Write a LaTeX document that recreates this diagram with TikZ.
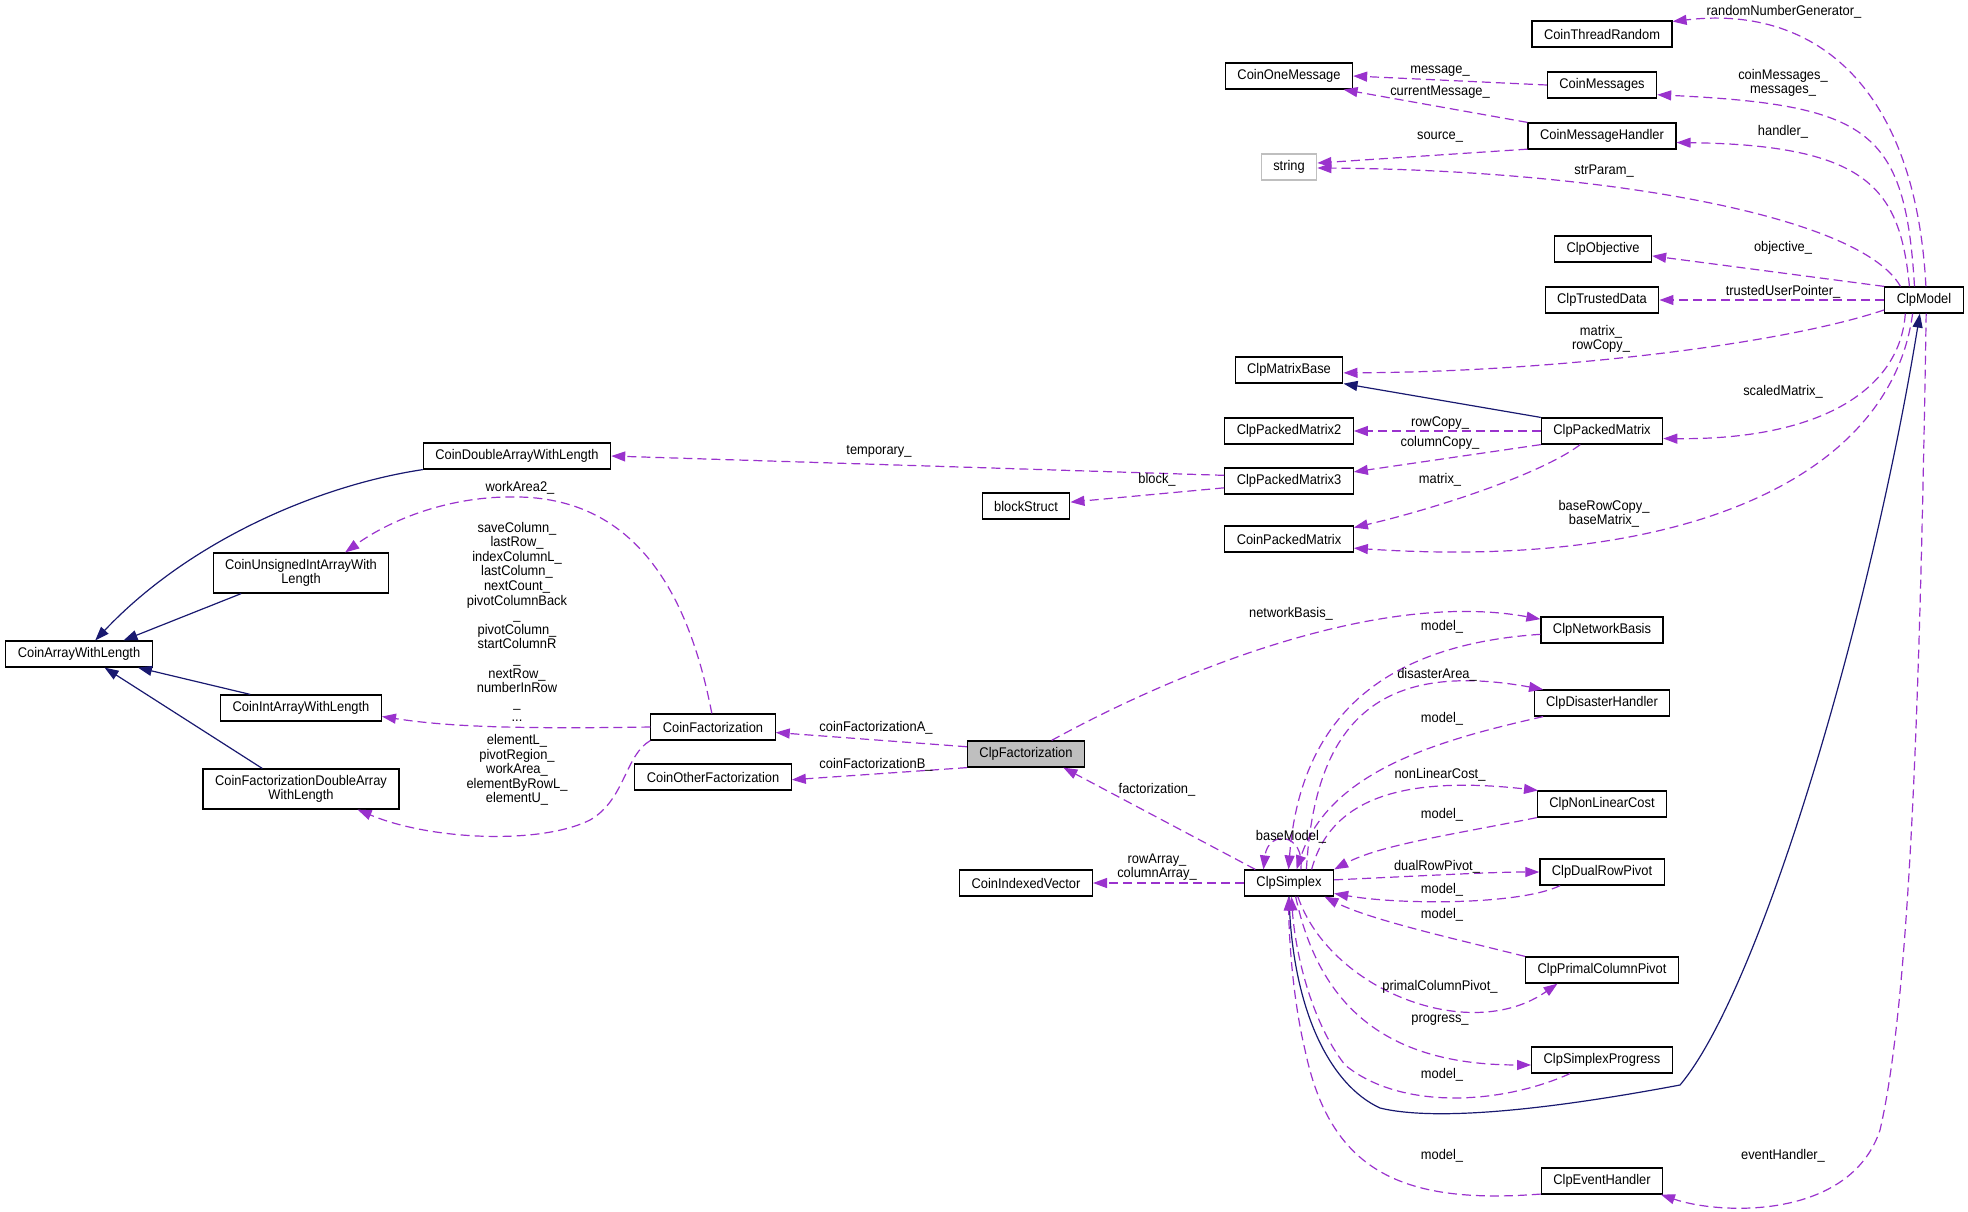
\documentclass[tikz,border=0pt]{standalone}
\usepackage{fontspec}
\setmainfont{Liberation Sans}[FakeStretch=0.92]
\usetikzlibrary{arrows.meta}

\definecolor{usecol}{HTML}{9A32CD}
\definecolor{inhcol}{HTML}{191970}
\definecolor{focusgray}{HTML}{BFBFBF}

\begin{document}
\begin{tikzpicture}[
    x=0.5pt, y=-0.5pt,
    box/.style={rectangle, draw, line width=0.6pt, minimum height=13pt, inner xsep=6pt, inner ysep=1pt, align=center, font=\fontsize{7pt}{7.3pt}\selectfont},
    lbl/.style={inner sep=0pt, align=center, font=\fontsize{7pt}{7.3pt}\selectfont},
    usearrow/.style={-{Triangle[length=7pt, width=5pt]}, usecol, line width=0.6pt, dash pattern=on 4.5pt off 2.5pt},
    inherit/.style={-{Triangle[length=7pt, width=5pt]}, inhcol, line width=0.6pt}
]
    \useasboundingbox (0,0) rectangle (1968,1211);

    % Array classes
    \node[box] (arr) at (79,654) {CoinArrayWithLength};
    \node[box] (dblarr) at (517,456) {CoinDoubleArrayWithLength};
    \node[box, minimum height=20pt] (uintarr) at (301,573) {CoinUnsignedIntArrayWith\\Length};
    \node[box] (intarr) at (301,708) {CoinIntArrayWithLength};
    \node[box, minimum height=20pt] (fdblarr) at (301,789) {CoinFactorizationDoubleArray\\WithLength};

    % Factorization
    \node[box] (cfact) at (713,727) {CoinFactorization};
    \node[box] (cother) at (713,777) {CoinOtherFactorization};
    \node[box, fill=focusgray] (clpfact) at (1026,754) {ClpFactorization};
    \node[box] (blockst) at (1026,506) {blockStruct};
    \node[box] (ivec) at (1026,883) {CoinIndexedVector};

    % Middle column
    \node[box] (onemsg) at (1289,76) {CoinOneMessage};
    \node[box, draw=focusgray] (str) at (1289,167) {string};
    \node[box] (mbase) at (1289,370) {ClpMatrixBase};
    \node[box] (pm2) at (1289,431) {ClpPackedMatrix2};
    \node[box] (pm3) at (1289,481) {ClpPackedMatrix3};
    \node[box] (coinpm) at (1289,539) {CoinPackedMatrix};
    \node[box] (simplex) at (1289,883) {ClpSimplex};

    % Right column
    \node[box] (thread) at (1602,34) {CoinThreadRandom};
    \node[box] (msgs) at (1602,85) {CoinMessages};
    \node[box] (handler) at (1602,136) {CoinMessageHandler};
    \node[box] (objective) at (1603,249) {ClpObjective};
    \node[box] (trusted) at (1602,300) {ClpTrustedData};
    \node[box] (packed) at (1602,431) {ClpPackedMatrix};
    \node[box] (netbasis) at (1602,630) {ClpNetworkBasis};
    \node[box] (disaster) at (1602,703) {ClpDisasterHandler};
    \node[box] (nonlin) at (1602,804) {ClpNonLinearCost};
    \node[box] (dual) at (1602,872) {ClpDualRowPivot};
    \node[box] (primal) at (1602,970) {ClpPrimalColumnPivot};
    \node[box] (progress) at (1602,1060) {ClpSimplexProgress};
    \node[box] (event) at (1602,1181) {ClpEventHandler};
    \node[box] (model) at (1924,300) {ClpModel};

    % Inheritance
    \draw[inherit] (dblarr.south west) .. controls (320,485) and (190,540) .. (arr.40);
    \draw[inherit] (uintarr.-161) -- (arr.17);
    \draw[inherit] (intarr.165) -- (arr.-13);
    \draw[inherit] (fdblarr.152) -- (arr.-28);
    \draw[inherit] (packed.north west) -- (mbase.south east);
    \draw[inherit] (simplex.south) .. controls (1292,1010) and (1330,1085) .. (1380,1108)
        .. controls (1450,1125) and (1600,1100) .. (1680,1085)
        .. controls (1760,990) and (1870,620) .. (model.-107);

    % ClpModel members
    \draw[usearrow] (model.82) .. controls (1915,80) and (1810,5) .. (thread.10);
    \draw[usearrow] (model.125) .. controls (1905,130) and (1870,105) .. (msgs.-10);
    \draw[usearrow] (model.137) .. controls (1900,190) and (1870,145) .. (handler.-5);
    \draw[usearrow] (model.150) .. controls (1860,215) and (1600,170) .. (str.-2);
    \draw[usearrow] (model.north west) -- (objective.-8);
    \draw[usearrow] (model.west) -- (trusted.east);
    \draw[usearrow] (model.-166) .. controls (1780,345) and (1550,372) .. (mbase.-3);
    \draw[usearrow] (model.-144) .. controls (1900,390) and (1820,440) .. (packed.-7);
    \draw[usearrow] (model.-130) .. controls (1890,480) and (1680,570) .. (coinpm.-8);
    \draw[usearrow] (model.-81) .. controls (1920,700) and (1910,1000) .. (1880,1130)
        .. controls (1850,1220) and (1720,1215) .. (event.-13);

    % Message classes
    \draw[usearrow] (handler.-170) -- (str.8);
    \draw[usearrow] (handler.north west) -- (onemsg.-14);
    \draw[usearrow] (msgs.west) -- (onemsg.east);

    % Matrix classes
    \draw[usearrow] (packed.west) -- (pm2.east);
    \draw[usearrow] (packed.south west) -- (pm3.8);
    \draw[usearrow] (packed.-148) .. controls (1540,475) and (1430,510) .. (coinpm.10);
    \draw[usearrow] (pm3.175) -- (dblarr.east);
    \draw[usearrow] (pm3.-174) -- (blockst.5);

    % CoinFactorization members
    \draw[usearrow] (cfact.95) .. controls (690,600) and (640,500) .. (520,497)
        .. controls (450,495) and (390,520) .. (uintarr.25);
    \draw[usearrow] (cfact.west) .. controls (520,729) and (450,727) .. (intarr.-6);
    \draw[usearrow] (cfact.south west) .. controls (625,755) and (625,800) .. (590,820)
        .. controls (540,845) and (430,840) .. (fdblarr.-20);

    % ClpFactorization members
    \draw[usearrow] (clpfact.173) -- (cfact.-5);
    \draw[usearrow] (clpfact.-167) -- (cother.-2);
    \draw[usearrow] (clpfact.28) .. controls (1180,670) and (1380,590) .. (netbasis.170);

    % ClpSimplex members
    \draw[usearrow] (simplex.158) -- (clpfact.-20);
    \draw[usearrow] (simplex.west) -- (ivec.east);
    \draw[usearrow] (simplex.49) .. controls (1305,832) and (1268,830) .. (simplex.152);
    \draw[usearrow] (netbasis.-176) .. controls (1380,645) and (1300,720) .. (simplex.92);
    \draw[usearrow] (simplex.38) .. controls (1315,720) and (1380,660) .. (disaster.167);
    \draw[usearrow] (disaster.-167) .. controls (1440,740) and (1330,770) .. (simplex.61);
    \draw[usearrow] (simplex.31) .. controls (1330,800) and (1400,775) .. (nonlin.168);
    \draw[usearrow] (nonlin.south west) .. controls (1450,835) and (1380,845) .. (simplex.north east);
    \draw[usearrow] (simplex.4) .. controls (1420,876) and (1490,872) .. (dual.west);
    \draw[usearrow] (dual.-162) .. controls (1520,905) and (1400,905) .. (simplex.-13);
    \draw[usearrow] (primal.north west) .. controls (1460,940) and (1370,920) .. (simplex.-21);
    \draw[usearrow] (simplex.-57) .. controls (1330,990) and (1470,1045) .. (primal.-163);
    \draw[usearrow] (simplex.-64) .. controls (1320,1010) and (1390,1065) .. (progress.-176);
    \draw[usearrow] (progress.-157) .. controls (1500,1105) and (1400,1110) .. (1345,1065)
        .. controls (1310,1020) and (1295,950) .. (simplex.-80);
    \draw[usearrow] (event.-168) .. controls (1400,1205) and (1330,1170) .. (1305,1050)
        .. controls (1293,1000) and (1289,940) .. (simplex.-92);

    % Labels
    \node[lbl] (lrand) at (1784,12) {randomNumberGenerator\_};
    \node[lbl] (lmsgs) at (1783,83) {coinMessages\_\\messages\_};
    \node[lbl] (lhandler) at (1783,132) {handler\_};
    \node[lbl] (lstrparam) at (1604,171) {strParam\_};
    \node[lbl] (lsource) at (1440,137) {source\_};
    \node[lbl] (lcurmsg) at (1440,92) {currentMessage\_};
    \node[lbl] (lmessage) at (1440,71) {message\_};
    \node[lbl] (lobjective) at (1783,248) {objective\_};
    \node[lbl] (ltrusted) at (1783,292) {trustedUserPointer\_};
    \node[lbl] (lmatrix) at (1601,339) {matrix\_\\rowCopy\_};
    \node[lbl] (lscaled) at (1783,392) {scaledMatrix\_};
    \node[lbl] (lrowcopy) at (1440,423) {rowCopy\_};
    \node[lbl] (lcolcopy) at (1440,443) {columnCopy\_};
    \node[lbl] (lpmatrix) at (1440,480) {matrix\_};
    \node[lbl] (lbase) at (1604,514) {baseRowCopy\_\\baseMatrix\_};
    \node[lbl] (ltemp) at (879,451) {temporary\_};
    \node[lbl] (lblock) at (1157,480) {block\_};
    \node[lbl] (lwork2) at (520,488) {workArea2\_};
    \node[lbl] (lintarr) at (517,622) {saveColumn\_\\lastRow\_\\indexColumnL\_\\lastColumn\_\\nextCount\_\\pivotColumnBack\\\_\\pivotColumn\_\\startColumnR\\\_\\nextRow\_\\numberInRow\\\_\\...};
    \node[lbl] (lfdbl) at (517,770) {elementL\_\\pivotRegion\_\\workArea\_\\elementByRowL\_\\elementU\_};
    \node[lbl] (lfacta) at (876,728) {coinFactorizationA\_};
    \node[lbl] (lfactb) at (876,765) {coinFactorizationB\_};
    \node[lbl] (lfact) at (1157,790) {factorization\_};
    \node[lbl] (larrays) at (1157,867) {rowArray\_\\columnArray\_};
    \node[lbl] (lnet) at (1291,614) {networkBasis\_};
    \node[lbl] (lnetmodel) at (1442,627) {model\_};
    \node[lbl] (ldisaster) at (1437,675) {disasterArea\_};
    \node[lbl] (ldismodel) at (1442,719) {model\_};
    \node[lbl] (lnonlin) at (1440,775) {nonLinearCost\_};
    \node[lbl] (lnlmodel) at (1442,815) {model\_};
    \node[lbl] (lbasemodel) at (1291,837) {baseModel\_};
    \node[lbl] (ldual) at (1437,867) {dualRowPivot\_};
    \node[lbl] (ldualmodel) at (1442,890) {model\_};
    \node[lbl] (lprimmodel) at (1442,915) {model\_};
    \node[lbl] (lprimal) at (1440,987) {primalColumnPivot\_};
    \node[lbl] (lprogress) at (1440,1020) {progress\_};
    \node[lbl] (lprogmodel) at (1442,1075) {model\_};
    \node[lbl] (levmodel) at (1442,1156) {model\_};
    \node[lbl] (levent) at (1783,1156) {eventHandler\_};
\end{tikzpicture}
\end{document}
